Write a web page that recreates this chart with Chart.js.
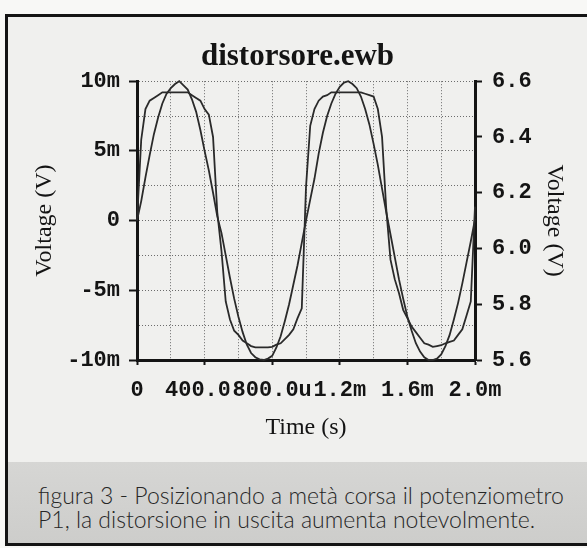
<!DOCTYPE html>
<html>
<head>
<meta charset="utf-8">
<title>distorsore.ewb</title>
<script src="https://cdn.jsdelivr.net/npm/chart.js@4.4.0/dist/chart.umd.min.js"></script>
<style>
  html, body { margin: 0; padding: 0; background: #f8f8f6; }
  body { width: 587px; height: 548px; position: relative; overflow: hidden; }
  #figure {
    position: absolute; left: 5px; top: 14px; width: 590px; height: 526px;
    border: 3px solid #141414; border-right: none; background: #f0f0ee;
  }
  #plot { position: absolute; left: 8px; top: 17px; width: 579px; height: 443px; }
  #caption {
    position: absolute; left: 8px; top: 462px; width: 579px; height: 81px;
    background: linear-gradient(#d6d6d4, #cdcdcb);
  }
  #caption p {
    margin: 0; position: absolute; left: 30px; top: 21px;
    font-family: 'Lato', 'Noto Sans', sans-serif; font-weight: 300;
    font-size: 23px; line-height: 24px; color: #262626; white-space: nowrap;
  }
</style>
</head>
<body>
<div id="figure"></div>
<div id="plot"><canvas id="chart" width="579" height="443"></canvas></div>
<div id="caption">
  <p>figura 3 - Posizionando a metà corsa il potenziometro<br>P1, la distorsione in uscita aumenta notevolmente.</p>
</div>
<script>
// simulation samples, one every 25 us from 0 to 2 ms
var sampleStepUs = 25;

// input signal, left axis (mV)
var inputMilliVolts = [
    0.0, 1.4, 3.1, 4.7, 6.2, 7.4, 8.4, 9.1, 9.5, 9.8,
    10.0, 9.7, 9.4, 8.7, 7.8, 6.5, 5.0, 3.6, 2.0, 0.3,
    -0.9, -2.5, -4.1, -5.6, -6.9, -8.0, -8.9, -9.5, -9.8, -9.95,
    -10.0, -9.9, -9.7, -9.1, -8.3, -7.2, -6.0, -4.6, -3.2, -1.6,
    0.0, 1.5, 3.0, 4.8, 6.3, 7.5, 8.4, 9.1, 9.6, 9.9,
    10.0, 9.8, 9.5, 8.9, 8.0, 6.9, 5.5, 4.0, 2.3, 0.6,
    -1.0, -2.6, -4.2, -5.6, -6.9, -7.9, -8.8, -9.4, -9.8, -10.0,
    -10.0, -9.9, -9.6, -9.0, -8.2, -7.1, -5.9, -4.5, -3.0, -1.5,
    0.1
];

// distorted output, right axis (V)
var outputVolts = [
    6.10, 6.39, 6.50, 6.53, 6.54, 6.55, 6.56, 6.56, 6.56, 6.56,
    6.56, 6.56, 6.56, 6.55, 6.54, 6.53, 6.50, 6.48, 6.40, 6.13,
    5.99, 5.81, 5.745, 5.705, 5.69, 5.67, 5.66, 5.65, 5.645, 5.645,
    5.645, 5.645, 5.647, 5.655, 5.66, 5.675, 5.69, 5.71, 5.75, 5.785,
    6.22, 6.44, 6.50, 6.53, 6.545, 6.55, 6.56, 6.56, 6.56, 6.56,
    6.56, 6.56, 6.56, 6.56, 6.555, 6.55, 6.545, 6.50, 6.40, 6.14,
    5.96, 5.89, 5.84, 5.78, 5.75, 5.72, 5.70, 5.68, 5.66, 5.655,
    5.647, 5.65, 5.653, 5.66, 5.665, 5.67, 5.69, 5.71, 5.76, 5.81,
    6.15
];

var timeTickLabels = ['0', '400.0u', '800.0u', '1.2m', '1.6m', '2.0m'];
var leftTickLabels = ['-10m', '-5m', '0', '5m', '10m'];

var ink = '#141414';
var gridInk = '#6c6c6c';
var clear = 'rgba(0,0,0,0)';
var monoFont = { family: "'Liberation Mono', 'DejaVu Sans Mono', monospace", size: 22, weight: 'bold' };
var serifFont = { family: "'Liberation Serif', 'DejaVu Serif', serif", size: 24 };

function points(values) {
    return values.map(function (v, i) {
        return { x: i * sampleStepUs, y: v };
    });
}

function timeLabel(value) {
    return value % 400 === 0 ? timeTickLabels[value / 400] : '';
}

function leftLabel(value) {
    return value % 5 === 0 ? leftTickLabels[(value + 10) / 5] : '';
}

var trace = {
    borderColor: '#2a2a2a',
    borderWidth: 1.8,
    pointRadius: 0,
    tension: 0,
    clip: 4
};

var chart = new Chart(document.getElementById('chart'), {
    type: 'line',
    data: {
        datasets: [
            Object.assign({ label: 'input', yAxisID: 'y', data: points(inputMilliVolts) }, trace),
            Object.assign({ label: 'output', yAxisID: 'y2', data: points(outputVolts) }, trace)
        ]
    },
    options: {
        responsive: false,
        animation: false,
        events: [],
        layout: { padding: 0 },
        plugins: {
            legend: { display: false },
            tooltip: { enabled: false },
            title: {
                display: true,
                text: 'distorsore.ewb',
                color: ink,
                font: { family: "'Liberation Serif', 'DejaVu Serif', serif", size: 31, weight: 'bold' },
                padding: { top: 21, bottom: 6 }
            }
        },
        scales: {
            x: {
                type: 'linear',
                position: 'bottom',
                min: 0,
                max: 2000,
                afterFit: function (scale) { scale.height = 100; },
                ticks: {
                    stepSize: 200,
                    autoSkip: false,
                    maxRotation: 0,
                    padding: 12,
                    color: ink,
                    font: monoFont,
                    callback: timeLabel,
                    showLabelBackdrop: function (ctx) { return timeLabel(ctx.tick.value) !== ''; },
                    backdropColor: '#f0f0ee',
                    backdropPadding: { left: 3, right: 0, top: 0, bottom: 0 }
                },
                grid: {
                    color: function (ctx) {
                        var v = ctx.tick.value;
                        return v === 0 || v === 2000 ? clear : gridInk;
                    },
                    lineWidth: 1,
                    tickLength: 5,
                    tickWidth: 2,
                    tickColor: function (ctx) { return ctx.tick.value % 400 === 0 ? ink : clear; }
                },
                border: { color: ink, width: 3, dash: [1, 2] },
                title: {
                    display: true,
                    text: 'Time (s)',
                    color: ink,
                    font: serifFont,
                    padding: { top: 0, bottom: 18 }
                }
            },
            y: {
                position: 'left',
                min: -10,
                max: 10,
                afterFit: function (scale) { scale.width = 129; },
                ticks: {
                    stepSize: 2.5,
                    autoSkip: false,
                    padding: 9,
                    color: ink,
                    font: monoFont,
                    callback: leftLabel
                },
                grid: {
                    color: function (ctx) { return ctx.tick.value === -10 ? clear : gridInk; },
                    lineWidth: 1,
                    tickLength: 8,
                    tickWidth: 2,
                    tickColor: function (ctx) { return ctx.tick.value % 5 === 0 ? ink : clear; }
                },
                border: { color: ink, width: 3, dash: [1, 2] },
                title: {
                    display: true,
                    text: 'Voltage (V)',
                    color: ink,
                    font: serifFont,
                    padding: { top: 22, bottom: 0 }
                }
            },
            y2: {
                position: 'right',
                min: 5.6,
                max: 6.6,
                afterFit: function (scale) { scale.width = 112; },
                ticks: {
                    stepSize: 0.2,
                    padding: 10,
                    color: ink,
                    font: monoFont,
                    callback: function (value) { return value.toFixed(1); }
                },
                grid: {
                    drawOnChartArea: false,
                    tickLength: 7,
                    tickWidth: 2,
                    tickColor: ink
                },
                border: { color: ink, width: 3 },
                title: {
                    display: true,
                    text: 'Voltage (V)',
                    color: ink,
                    font: serifFont,
                    padding: { top: 18, bottom: 0 }
                }
            }
        }
    }
});
</script>
</body>
</html>
